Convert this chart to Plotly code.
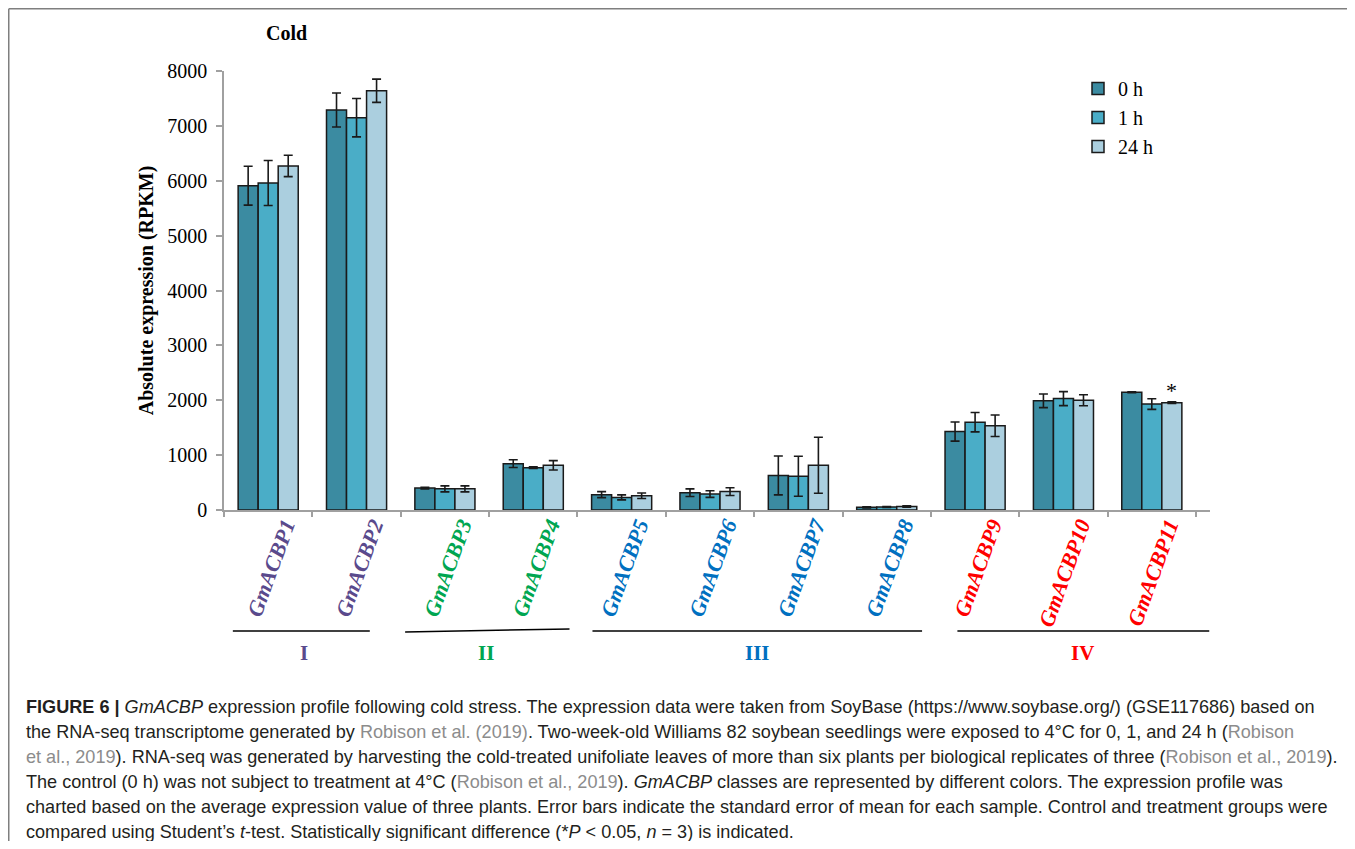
import plotly.graph_objects as go

# ---------------- data ----------------
genes = ['GmACBP1', 'GmACBP2', 'GmACBP3', 'GmACBP4', 'GmACBP5', 'GmACBP6',
         'GmACBP7', 'GmACBP8', 'GmACBP9', 'GmACBP10', 'GmACBP11']
gene_class = ['I', 'I', 'II', 'II', 'III', 'III', 'III', 'III', 'IV', 'IV', 'IV']
series_names = ['0 h', '1 h', '24 h']

v0h = [5910, 7290, 400, 845, 280, 315, 630, 48, 1430, 1990, 2145]
e0h = [355, 310, 15, 70, 55, 70, 355, 10, 175, 125, 8]
v1h = [5960, 7150, 385, 770, 230, 290, 615, 55, 1600, 2030, 1930]
e1h = [410, 350, 55, 15, 45, 60, 365, 10, 177, 128, 97]
v24h = [6270, 7640, 385, 815, 260, 335, 815, 65, 1535, 2000, 1955]
e24h = [195, 212, 55, 85, 50, 70, 510, 12, 195, 100, 15]

y_ticks = [0, 1000, 2000, 3000, 4000, 5000, 6000, 7000, 8000]

class_names = ['I', 'II', 'III', 'IV']
class_colors = ['#5a4a8c', '#00a651', '#0070c0', '#ff0000']
# group underline extent (category units) and label position
class_line_start = [-0.40, 1.55, 3.67, 7.80]
class_line_end = [1.15, 3.41, 7.40, 10.65]
class_label_pos = [0.40, 2.47, 5.54, 9.22]

significant_gene = 'GmACBP11'

GRAY = "<span style='color:#8c8c8c'>"
caption_lines = [
    "<b>FIGURE 6 |</b> <i>GmACBP</i> expression profile following cold stress. The expression data were taken from SoyBase (https://www.soybase.org/) (GSE117686) based on",
    f"the RNA-seq transcriptome generated by {GRAY}Robison et al. (2019)</span>. Two-week-old Williams 82 soybean seedlings were exposed to 4°C for 0, 1, and 24 h ({GRAY}Robison</span>",
    f"{GRAY}et al., 2019</span>). RNA-seq was generated by harvesting the cold-treated unifoliate leaves of more than six plants per biological replicates of three ({GRAY}Robison et al., 2019</span>).",
    f"The control (0 h) was not subject to treatment at 4°C ({GRAY}Robison et al., 2019</span>). <i>GmACBP</i> classes are represented by different colors. The expression profile was",
    "charted based on the average expression value of three plants. Error bars indicate the standard error of mean for each sample. Control and treatment groups were",
    "compared using Student’s <i>t</i>-test. Statistically significant difference (*<i>P</i> < 0.05, <i>n</i> = 3) is indicated.",
]

# ---------------- styling ----------------
bar_colors = ['#3b8ba1', '#4aadc7', '#abcfdf']
SERIF = 'Liberation Serif'
SANS = 'Liberation Sans'

fig = go.Figure()
for name, vals, errs, col in zip(series_names, [v0h, v1h, v24h], [e0h, e1h, e24h], bar_colors):
    fig.add_trace(go.Bar(
        x=genes, y=vals, name=name,
        marker=dict(color=col, line=dict(color='#1a1a1a', width=1.5)),
        error_y=dict(type='data', array=errs, visible=True, color='#1a1a1a',
                     thickness=1.6, width=4.5),
    ))

cls_color = dict(zip(class_names, class_colors))
ticktext = [f"<span style='color:{cls_color[c]}'><b><i>{g}</i></b></span>" for g, c in zip(genes, gene_class)]

# page has an 8px body margin; figure coordinates = page coordinates - 8
OFF = 8
W, H = 1339, 833
L, T = 224 - OFF, 71 - OFF
R = W - (1210 - OFF)
B = H - (510 - OFF)
pw, ph = W - L - R, H - T - B


def px_x(px):
    return (px - OFF - L) / pw


def px_y(py):
    return (H - B - (py - OFF)) / ph


fig.update_layout(
    width=W, height=H,
    margin=dict(l=L, r=R, t=T, b=B, pad=0),
    paper_bgcolor='white', plot_bgcolor='white',
    barmode='group', bargap=0.32, bargroupgap=0,
    font=dict(family=SERIF, size=20, color='black'),
    showlegend=True,
    legend=dict(x=px_x(1078), y=px_y(69), xanchor='left', yanchor='top',
                font=dict(family=SERIF, size=20, color='black'),
                bgcolor='rgba(0,0,0,0)', tracegroupgap=0),
    xaxis=dict(
        tickmode='array', tickvals=genes, ticktext=ticktext,
        tickangle=-70, tickfont=dict(family=SERIF, size=22),
        ticklabelshift=17, ticklabelstandoff=-8,
        showline=True, linecolor='#a0a0a0', linewidth=1.5,
        ticks='outside', tickson='boundaries', ticklen=5, tickcolor='#a0a0a0', tickwidth=1.5,
        showgrid=False, zeroline=False,
    ),
    yaxis=dict(
        range=[0, 8000], tickmode='array', tickvals=y_ticks,
        tickfont=dict(family=SERIF, size=20),
        showline=True, linecolor='#a0a0a0', linewidth=1.5,
        ticks='outside', ticklen=6, tickcolor='#a0a0a0', tickwidth=1.5,
        ticklabelstandoff=5,
        showgrid=False, zeroline=False,
        title=dict(text='<b>Absolute expression (RPKM)</b>', font=dict(family=SERIF, size=20), standoff=8),
    ),
)

shapes = []
annotations = []

# outer frame: top and left edges only (the rest runs off the page)
frame = dict(color='#7f7f7f', width=1.5)
shapes.append(dict(type='line', xref='paper', yref='paper',
                   x0=px_x(8.75), x1=px_x(1360), y0=px_y(8.75), y1=px_y(8.75), line=frame))
shapes.append(dict(type='line', xref='paper', yref='paper',
                   x0=px_x(8.75), x1=px_x(8.75), y0=px_y(8.75), y1=px_y(860), line=frame))

# class lines and labels
line_y_left = [631, 632, 631, 631]
line_y_right = [631, 629, 631, 631]
for name, col, s, e, p, yl, yr in zip(class_names, class_colors, class_line_start, class_line_end,
                                      class_label_pos, line_y_left, line_y_right):
    shapes.append(dict(type='line', xref='x', yref='paper', x0=s, x1=e,
                       y0=px_y(yl), y1=px_y(yr), line=dict(color='black', width=1.5)))
    annotations.append(dict(xref='x', yref='paper', x=p, y=px_y(653), text=f'<b>{name}</b>',
                            showarrow=False, font=dict(family=SERIF, size=21, color=col),
                            xanchor='center', yanchor='middle'))

# significance asterisk above 24 h bar of GmACBP11
si = genes.index(significant_gene)
annotations.append(dict(xref='x', yref='y', x=significant_gene, xshift=20,
                        y=v24h[si] + e24h[si], yshift=-3, text='*', showarrow=False,
                        font=dict(family=SERIF, size=22, color='black'),
                        xanchor='center', yanchor='bottom'))

# chart title
annotations.append(dict(xref='paper', yref='paper', x=px_x(286), y=px_y(33), text='<b>Cold</b>',
                        showarrow=False, font=dict(family=SERIF, size=20, color='black'),
                        xanchor='center', yanchor='middle'))

# caption
for i, line in enumerate(caption_lines):
    annotations.append(dict(xref='paper', yref='paper', x=px_x(24), y=px_y(707 + 25 * i),
                            text=line, showarrow=False, align='left',
                            font=dict(family=SANS, size=18.1, color='#231f20'),
                            xanchor='left', yanchor='middle'))

fig.update_layout(shapes=shapes, annotations=annotations)
fig.write_html('out.html')
